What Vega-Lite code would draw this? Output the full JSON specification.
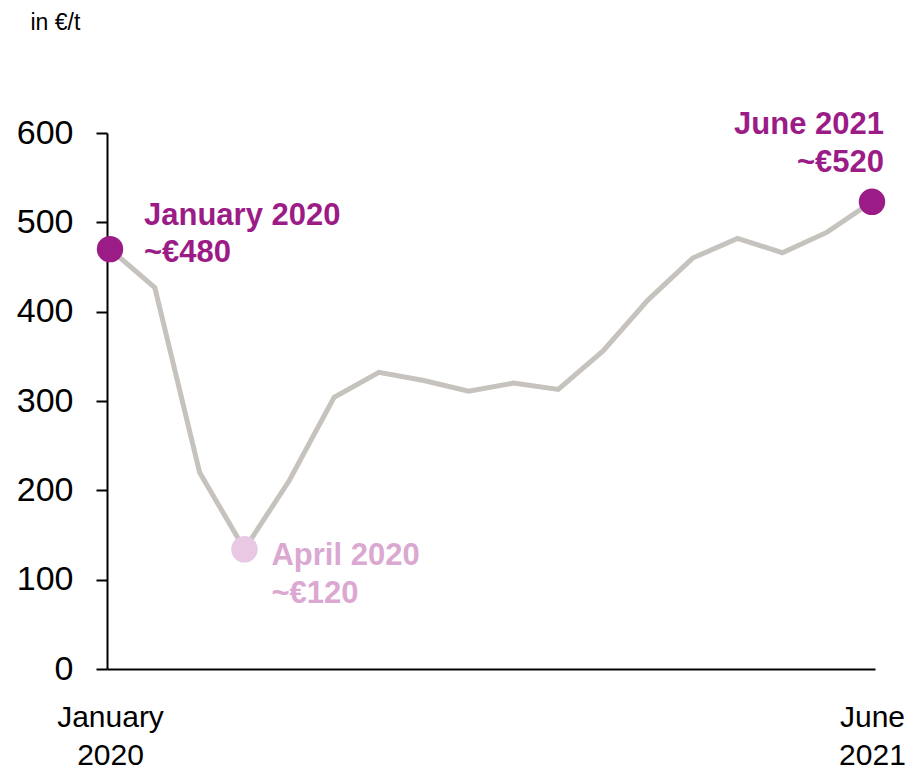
{
  "$schema": "https://vega.github.io/schema/vega-lite/v6.json",
  "width": 768,
  "height": 536,
  "autosize": "none",
  "padding": {"left": 107, "top": 133, "right": 30, "bottom": 104},
  "background": "white",
  "config": {"view": {"stroke": null}, "font": "Liberation Sans"},
  "data": {
    "values": [
      {"month": 0, "price": 470, "note": "jan", "label": ["January 2020", "~€480"]},
      {"month": 1, "price": 427},
      {"month": 2, "price": 220},
      {"month": 3, "price": 134, "note": "apr", "label": ["April 2020", "~€120"]},
      {"month": 4, "price": 211},
      {"month": 5, "price": 304},
      {"month": 6, "price": 332},
      {"month": 7, "price": 323},
      {"month": 8, "price": 311},
      {"month": 9, "price": 320},
      {"month": 10, "price": 313},
      {"month": 11, "price": 356},
      {"month": 12, "price": 413},
      {"month": 13, "price": 460},
      {"month": 14, "price": 482},
      {"month": 15, "price": 466},
      {"month": 16, "price": 489},
      {"month": 17, "price": 523, "note": "jun", "label": ["June 2021", "~€520"]}
    ]
  },
  "encoding": {
    "x": {
      "field": "month",
      "type": "quantitative",
      "scale": {"domain": [-0.067, 17.067], "nice": false, "zero": false},
      "axis": {
        "values": [0, 17],
        "labelExpr": "datum.value == 0 ? ['January', '2020'] : ['June', '2021']",
        "ticks": false,
        "grid": false,
        "domainColor": "black",
        "domainWidth": 2,
        "labelFontSize": 30,
        "labelColor": "black",
        "labelPadding": 33,
        "labelLineHeight": 38,
        "labelFlush": false,
        "labelOverlap": false,
        "labelBaseline": "top",
        "title": null
      }
    },
    "y": {
      "field": "price",
      "type": "quantitative",
      "scale": {"domain": [0, 600], "nice": false},
      "axis": {
        "values": [0, 100, 200, 300, 400, 500, 600],
        "grid": false,
        "domainColor": "black",
        "domainWidth": 2,
        "tickColor": "black",
        "tickWidth": 2,
        "tickSize": 11,
        "labelFontSize": 34,
        "labelColor": "black",
        "labelPadding": 23,
        "labelFlush": false,
        "title": "in €/t",
        "titleAngle": 0,
        "titleX": -77,
        "titleY": -104,
        "titleAlign": "left",
        "titleBaseline": "alphabetic",
        "titleFontSize": 23,
        "titleFontWeight": "normal",
        "titleColor": "black"
      }
    }
  },
  "layer": [
    {
      "mark": {"type": "line", "color": "#C6C2BD", "strokeWidth": 5}
    },
    {
      "transform": [{"filter": "datum.note != null"}],
      "mark": {"type": "circle", "size": 700, "opacity": 1},
      "encoding": {
        "color": {
          "field": "note",
          "type": "nominal",
          "scale": {"domain": ["jan", "apr", "jun"], "range": ["#9C1C87", "#E8C8E3", "#9C1C87"]},
          "legend": null
        }
      }
    },
    {
      "transform": [{"filter": "datum.note == 'jan'"}],
      "mark": {"type": "text", "align": "left", "baseline": "alphabetic", "dx": 34, "dy": -24, "fontSize": 31, "fontWeight": "bold", "lineHeight": 37, "color": "#9C1C87"},
      "encoding": {"text": {"field": "label"}}
    },
    {
      "transform": [{"filter": "datum.note == 'apr'"}],
      "mark": {"type": "text", "align": "left", "baseline": "alphabetic", "dx": 27, "dy": 16, "fontSize": 31, "fontWeight": "bold", "lineHeight": 38, "color": "#DAA8D1"},
      "encoding": {"text": {"field": "label"}}
    },
    {
      "transform": [{"filter": "datum.note == 'jun'"}],
      "mark": {"type": "text", "align": "right", "baseline": "alphabetic", "dx": 12, "dy": -68, "fontSize": 31, "fontWeight": "bold", "lineHeight": 38, "color": "#9C1C87"},
      "encoding": {"text": {"field": "label"}}
    }
  ]
}
